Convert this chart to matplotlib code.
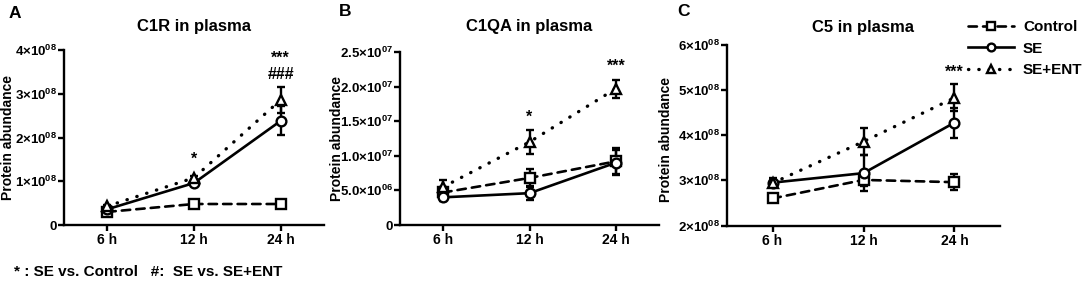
import matplotlib
matplotlib.use("Agg")
import matplotlib.pyplot as plt
import numpy as np

plt.rcParams["font.family"] = ["Liberation Sans", "DejaVu Sans"]
plt.rcParams["font.weight"] = "bold"
plt.rcParams["mathtext.fontset"] = "custom"
plt.rcParams["mathtext.rm"] = "Liberation Sans:bold"
plt.rcParams["mathtext.bf"] = "Liberation Sans:bold"
plt.rcParams["mathtext.it"] = "Liberation Sans:bold"

# ─── Data ────────────────────────────────────────────────────────────────────
timepoints = ["6 h", "12 h", "24 h"]
groups = ["Control", "SE", "SE+ENT"]

# C1R in plasma
c1r_control = [0.30e8, 0.48e8, 0.48e8]
c1r_control_err = [0.03e8, 0.03e8, 0.03e8]
c1r_se = [0.36e8, 0.96e8, 2.38e8]
c1r_se_err = [0.03e8, 0.07e8, 0.33e8]
c1r_se_ent = [0.43e8, 1.08e8, 2.86e8]
c1r_se_ent_err = [0.03e8, 0.05e8, 0.30e8]

# C1QA in plasma
c1qa_control = [0.47e7, 0.68e7, 0.92e7]
c1qa_control_err = [0.08e7, 0.13e7, 0.19e7]
c1qa_se = [0.40e7, 0.46e7, 0.90e7]
c1qa_se_err = [0.05e7, 0.10e7, 0.18e7]
c1qa_se_ent = [0.55e7, 1.20e7, 1.97e7]
c1qa_se_ent_err = [0.10e7, 0.18e7, 0.13e7]

# C5 in plasma
c5_control = [2.60e8, 3.01e8, 2.96e8]
c5_control_err = [0.05e8, 0.13e8, 0.18e8]
c5_se = [2.95e8, 3.16e8, 4.28e8]
c5_se_err = [0.10e8, 0.40e8, 0.33e8]
c5_se_ent = [2.94e8, 3.86e8, 4.83e8]
c5_se_ent_err = [0.08e8, 0.30e8, 0.30e8]

# y ticks
c1r_yticks = [0, 1e8, 2e8, 3e8, 4e8]
c1r_yticklabels = ["0", "1×10^{08}", "2×10^{08}", "3×10^{08}", "4×10^{08}"]
c1qa_yticks = [0, 0.5e7, 1.0e7, 1.5e7, 2.0e7, 2.5e7]
c1qa_yticklabels = ["0", "5.0×10^{06}", "1.0×10^{07}", "1.5×10^{07}",
                    "2.0×10^{07}", "2.5×10^{07}"]
c5_yticks = [2e8, 3e8, 4e8, 5e8, 6e8]
c5_yticklabels = ["2×10^{08}", "3×10^{08}", "4×10^{08}", "5×10^{08}", "6×10^{08}"]

# significance marks: (time index, y value, text)
c1r_marks = [(1, 1.50e8, "*"), (2, 3.80e8, "***"), (2, 3.45e8, "###")]
c1qa_marks = [(1, 1.56e7, "*"), (2, 2.30e7, "***")]
c5_marks = [(2, 5.40e8, "***")]

# ─── Styles ──────────────────────────────────────────────────────────────────
STYLES = {
    "Control": dict(linestyle=(0, (3.2, 2.3)), marker="s"),
    "SE": dict(linestyle="-", marker="o"),
    "SE+ENT": dict(linestyle=(0, (0.1, 3.0)), marker="^"),
}


def tick_label(s):
    if "^" in s:
        return "$" + s.replace("×", r"{\times}") + "$"
    return s


def draw_panel(ax, title, series, yticks, yticklabels, ylim, marks, title_pad):
    x = np.arange(len(timepoints))
    handles = []
    for name, (vals, errs) in zip(groups, series):
        st = STYLES[name]
        ax.errorbar(x, vals, yerr=errs, fmt="none", ecolor="black",
                    elinewidth=1.7, capsize=3.2, capthick=1.7, zorder=2)
        lw = 2.4 if name == "SE+ENT" else 1.9
        ln, = ax.plot(x, vals, color="black", lw=lw,
                      linestyle=st["linestyle"], dash_capstyle="round",
                      marker=st["marker"], markersize=7,
                      markerfacecolor="white", markeredgecolor="black",
                      markeredgewidth=1.7, zorder=3, label=name)
        handles.append(ln)
    ax.set_xlim(-0.5, 2.5)
    ax.set_ylim(*ylim)
    ax.set_xticks(x)
    ax.set_xticklabels(timepoints, fontsize=10, fontweight="bold")
    ax.set_yticks(yticks)
    ax.set_yticklabels([tick_label(s) for s in yticklabels], fontsize=9.5)
    ax.spines["top"].set_visible(False)
    ax.spines["right"].set_visible(False)
    for sp in ("left", "bottom"):
        ax.spines[sp].set_linewidth(1.7)
    ax.tick_params(width=1.7, length=4, pad=2)
    ax.tick_params(axis="y", pad=1)
    ax.set_title(title, fontsize=12, fontweight="bold", pad=title_pad)
    for i, yv, txt in marks:
        ax.text(i, yv, txt, ha="center", va="center", fontsize=11.5,
                fontweight="bold")
    return handles


fig = plt.figure(figsize=(10.84, 2.88), dpi=100)
W, H = 1084, 288


def add_axes(left, right, top, bottom):
    return fig.add_axes([left / W, 1 - bottom / H, (right - left) / W, (bottom - top) / H])


ax_a = add_axes(64, 324, 50, 225)
ax_b = add_axes(400, 659, 52, 225)
ax_c = add_axes(727, 1000, 45, 225.5)

draw_panel(ax_a, "C1R in plasma",
           [(c1r_control, c1r_control_err), (c1r_se, c1r_se_err),
            (c1r_se_ent, c1r_se_ent_err)],
           c1r_yticks, c1r_yticklabels, (0, 4e8), c1r_marks, 13.7)
draw_panel(ax_b, "C1QA in plasma",
           [(c1qa_control, c1qa_control_err), (c1qa_se, c1qa_se_err),
            (c1qa_se_ent, c1qa_se_ent_err)],
           c1qa_yticks, c1qa_yticklabels, (0, 2.5e7), c1qa_marks, 15.2)
handles = draw_panel(ax_c, "C5 in plasma",
                     [(c5_control, c5_control_err), (c5_se, c5_se_err),
                      (c5_se_ent, c5_se_ent_err)],
                     c5_yticks, c5_yticklabels, (2e8, 6e8), c5_marks, 9.4)

# y labels and panel letters
for xpx, ypx in ((8, 137), (337, 138), (666, 140)):
    fig.text(xpx / W, 1 - ypx / H, "Protein abundance", rotation=90,
             ha="center", va="center", fontsize=10, fontweight="bold")
for letter, xpx, ypx in (("A", 15, 14), ("B", 345, 12), ("C", 684, 12)):
    fig.text(xpx / W, 1 - ypx / H, letter, ha="center", va="center",
             fontsize=12.5, fontweight="bold")

fig.legend(handles, groups, loc="upper left", bbox_to_anchor=(968 / W, 1 - 20 / H),
           frameon=False, fontsize=11, handlelength=3.0, handletextpad=0.6,
           labelspacing=0.5, borderaxespad=0, borderpad=0, markerscale=0.8)

fig.text(14 / W, 1 - 272 / H, "* : SE vs. Control   #:  SE vs. SE+ENT",
         ha="left", va="center", fontsize=11, fontweight="bold")

fig.savefig("out.png", dpi=100)
